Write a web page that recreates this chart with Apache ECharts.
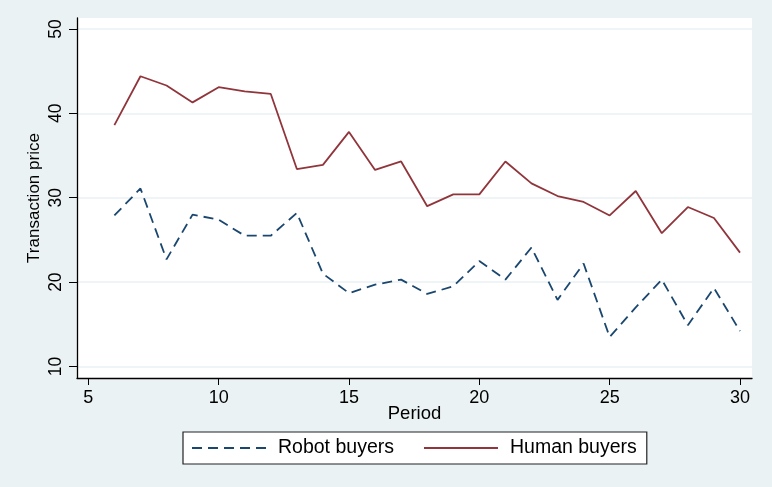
<!DOCTYPE html>
<html>
<head>
<meta charset="utf-8">
<script src="https://cdn.jsdelivr.net/npm/echarts@6/dist/echarts.min.js"></script>
<style>
  html, body { margin: 0; padding: 0; background: #eaf2f3; }
  #vis { width: 772px; height: 487px; }
</style>
</head>
<body>
<div id="vis"></div>
<script>
const periods = [6, 7, 8, 9, 10, 11, 12, 13, 14, 15, 16, 17, 18, 19, 20, 21, 22, 23, 24, 25, 26, 27, 28, 29, 30];
const robotBuyers = [27.9, 31.1, 22.7, 28.0, 27.4, 25.5, 25.5, 28.2, 21.0, 18.7, 19.7, 20.3, 18.6, 19.5, 22.5, 20.3, 24.1, 17.9, 22.2, 13.5, 17.0, 20.3, 14.9, 19.3, 14.2];
const humanBuyers = [38.6, 44.4, 43.3, 41.3, 43.1, 42.6, 42.3, 33.4, 33.9, 37.8, 33.3, 34.3, 29.0, 30.4, 30.4, 34.3, 31.7, 30.2, 29.5, 27.9, 30.8, 25.8, 28.9, 27.6, 23.5];
const xTicks = [5, 10, 15, 20, 25, 30];
const yTicks = [10, 20, 30, 40, 50];

const FONT = '"Liberation Sans", Arial, sans-serif';
const navy = '#1a476f';
const maroon = '#90353b';
const gridCol = '#eaf2f3';

function pairs(xs, ys) {
  return xs.map((x, i) => [x, ys[i]]);
}

const chart = echarts.init(document.getElementById('vis'), null, { renderer: 'canvas' });

chart.setOption({
  animation: false,
  backgroundColor: '#eaf2f3',
  textStyle: { fontFamily: FONT, color: '#000' },
  grid: {
    left: 77, right: 20, top: 18, bottom: 109,
    show: true, backgroundColor: '#fff', borderWidth: 0,
    outerBoundsMode: 'none'
  },
  legend: {
    left: 183, top: 432,
    padding: [6, 10, 6, 8],
    itemWidth: 74, itemHeight: 14, itemGap: 29,
    backgroundColor: '#fff',
    borderColor: '#222', borderWidth: 1.2,
    // hide the marker dot, keep only the line sample
    itemStyle: { opacity: 0 },
    lineStyle: { opacity: 1 },
    textStyle: { fontSize: 19.5, fontFamily: FONT, color: '#000', padding: [0, 0, 0, 7] },
    data: ['Robot buyers', 'Human buyers']
  },
  xAxis: {
    type: 'value',
    min: 4.566, max: 30.46,
    name: 'Period', nameLocation: 'middle', nameGap: 26, nameMoveOverlap: false,
    nameTextStyle: { fontSize: 18.5, fontFamily: FONT, color: '#000' },
    axisLine: { show: true, onZero: false, lineStyle: { color: '#000', width: 1.3 } },
    axisTick: { show: true, length: 7, customValues: xTicks, lineStyle: { color: '#000', width: 1 } },
    axisLabel: { customValues: xTicks, margin: 11, fontSize: 18, color: '#000', fontFamily: FONT },
    splitLine: { show: false }
  },
  yAxis: {
    type: 'value',
    min: 8.64, max: 51.3,
    name: 'Transaction price', nameLocation: 'middle', nameGap: 34, nameRotate: 90, nameMoveOverlap: false,
    nameTextStyle: { fontSize: 17, fontFamily: FONT, color: '#000' },
    axisLine: { show: true, onZero: false, lineStyle: { color: '#000', width: 1.3 } },
    axisTick: { show: true, length: 8, customValues: yTicks, lineStyle: { color: '#000', width: 1 } },
    axisLabel: { customValues: yTicks, rotate: 90, margin: 12, fontSize: 17.5, color: '#000', fontFamily: FONT },
    splitLine: { show: true, lineStyle: { color: gridCol, width: 1.5 } }
  },
  series: [
    {
      name: 'Robot buyers',
      type: 'line',
      data: pairs(periods, robotBuyers),
      symbol: 'none',
      color: navy,
      lineStyle: { color: navy, width: 1.8, type: [10, 6] }
    },
    {
      name: 'Human buyers',
      type: 'line',
      data: pairs(periods, humanBuyers),
      symbol: 'none',
      color: maroon,
      lineStyle: { color: maroon, width: 1.8 }
    }
  ]
});
</script>
</body>
</html>
